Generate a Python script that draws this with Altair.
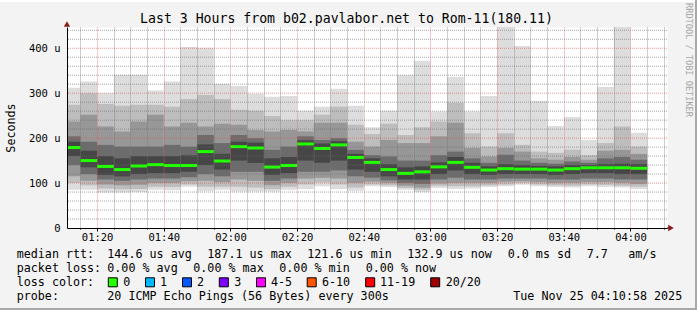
import altair as alt
import pandas as pd

# ---------------- data ----------------
times_end = ["01:15", "01:20", "01:25", "01:30", "01:35", "01:40", "01:45", "01:50", "01:55",
             "02:00", "02:05", "02:10", "02:15", "02:20", "02:25", "02:30", "02:35", "02:40",
             "02:45", "02:50", "02:55", "03:00", "03:05", "03:10", "03:15", "03:20", "03:25",
             "03:30", "03:35", "03:40", "03:45", "03:50", "03:55", "04:00", "04:05"]

vmax = [312, 326, 300, 341, 341, 306, 326, 403, 401, 321, 316, 299, 292, 294, 261, 270, 310, 272,
        224, 261, 340, 372, 259, 336, 259, 294, 520, 405, 283, 227, 247, 196, 314, 520, 212]
hi2 = [274, 300, 276, 272, 274, 274, 270, 287, 296, 287, 263, 261, 249, 240, 240, 252, 270, 230,
       209, 232, 207, 224, 237, 279, 211, 181, 211, 185, 170, 167, 174, 162, 189, 226, 181]
hi3 = [237, 252, 226, 215, 237, 252, 226, 234, 226, 232, 230, 218, 215, 218, 215, 234, 234, 192,
       181, 196, 189, 189, 204, 234, 178, 159, 178, 170, 155, 152, 158, 152, 172, 174, 165]
hi4 = [204, 192, 185, 181, 181, 181, 185, 181, 207, 189, 207, 200, 174, 181, 204, 196, 200, 174,
       162, 159, 150, 150, 162, 170, 155, 145, 163, 150, 145, 143, 148, 145, 155, 158, 152]
hi5 = [192, 172, 160, 155, 160, 160, 160, 162, 186, 165, 192, 190, 155, 158, 195, 188, 193, 165,
       155, 142, 135, 137, 146, 158, 145, 137, 142, 140, 138, 137, 140, 140, 142, 143, 142]
median = [179, 150, 137, 130, 138, 141, 139, 139, 170, 149, 181, 178, 135.5, 139, 187, 177, 185, 157,
          146, 130, 121.6, 125, 136, 146, 135, 129, 132, 131, 131, 129, 132, 134, 134, 134, 132.9]
lo5 = [160, 135, 118, 115, 120, 122, 122, 125, 140, 130, 150, 145, 118, 122, 150, 145, 150, 130,
       125, 115, 108, 108, 120, 128, 120, 118, 120, 120, 120, 118, 120, 122, 122, 120, 120]
lo4 = [140, 120, 108, 105, 108, 110, 110, 113, 120, 115, 125, 125, 105, 110, 125, 125, 128, 115,
       112, 106, 100, 98, 108, 112, 108, 108, 110, 110, 110, 108, 108, 110, 110, 108, 108]
lo3 = [115, 105, 97, 95, 96, 100, 100, 104, 105, 102, 108, 105, 95, 100, 110, 112, 110, 100,
       103, 100, 94, 90, 99, 100, 100, 100, 103, 104, 102, 100, 100, 102, 102, 100, 98]
lo2 = [100, 95, 88, 86, 87, 92, 91, 97, 92, 92, 92, 90, 87, 92, 97, 101, 97, 90,
       97, 95, 89, 85, 94, 93, 93, 95, 97, 100, 97, 95, 94, 97, 96, 94, 92]
vmin = [85, 85, 79, 79, 80, 85, 84, 92, 82, 85, 81, 81, 81, 85, 87, 93, 87, 83,
        93, 91, 85, 80, 89, 87, 88, 91, 93, 96, 93, 91, 90, 93, 91, 90, 87]

x_tick_labels = ["01:20", "01:40", "02:00", "02:20", "02:40", "03:00", "03:20", "03:40", "04:00"]
y_tick_values = [0, 100, 200, 300, 400]

title_text = "Last 3 Hours from b02.pavlabor.net to Rom-11(180.11)"
loss_labels = ["0", "1", "2", "3", "4-5", "6-10", "11-19", "20/20"]
loss_colors = ["#26ff00", "#00b8ff", "#0059ff", "#7e00ff", "#ff00ff", "#ff5500", "#ff0000", "#a10000"]

FONT = "DejaVu Sans Mono"


def to_min(t):
    h, m = t.split(":")
    return int(h) * 60 + int(m)


X0 = 70 + 58 / 60.0      # 01:10:58
X1 = X0 + 180            # 04:10:58
Y1 = 447.3
W, H = 600, 201

xs = alt.Scale(domain=[X0, X1], nice=False, zero=False)
ys = alt.Scale(domain=[0, Y1], nice=False, zero=False)

band_specs = [("L1", vmin, vmax, "#dddddd"),
              ("L2", lo2, hi2, "#bdbdbd"),
              ("L3", lo3, hi3, "#979797"),
              ("L4", lo4, hi4, "#6c6c6c"),
              ("L5", lo5, hi5, "#464646")]
rows = []
for name, lo, hi, _c in band_specs:
    for t, a, b in zip(times_end, lo, hi):
        e = to_min(t)
        rows.append(dict(x=e - 5, x2=e, lo=a, hi=b, layer=name))
bands = pd.DataFrame(rows)

med_df = pd.DataFrame({"x": [to_min(t) - 5 for t in times_end],
                       "x2": [to_min(t) for t in times_end],
                       "med": median})

major_x = [to_min(t) for t in x_tick_labels]
all_x = list(range(75, 251, 5))          # 5-minute grid (minor), majors every 20 min
major_y = [100.0, 200.0, 300.0, 400.0]
minor_y = [float(v) for v in range(20, 441, 20) if v not in major_y]

IS_MAJOR_X = "datum.value % 20 == 0"
xaxis = alt.Axis(values=all_x,
                 labelExpr="datum.value % 20 != 0 ? '' : "
                           "(floor(datum.value/60) < 10 ? '0' : '') + floor(datum.value/60) + ':' + "
                           "(datum.value % 60 < 10 ? '0' : '') + (datum.value % 60)",
                 title=None, domainColor="black", domainWidth=1,
                 grid=True, gridDash=[1, 1], gridWidth=1,
                 gridColor={"condition": {"test": IS_MAJOR_X, "value": "#e05050"}, "value": "#6a6a6a"},
                 gridOpacity={"condition": {"test": IS_MAJOR_X, "value": 0.6}, "value": 0.65},
                 zindex=1,
                 ticks=True, tickColor="black",
                 tickSize={"condition": {"test": IS_MAJOR_X, "value": 3}, "value": 1},
                 labelFont=FONT, labelFontSize=10.5, labelColor="black",
                 labelPadding=1, labelFlush=False)
yaxis = alt.Axis(values=y_tick_values,
                 labelExpr="datum.value == 0 ? '0' : datum.value + ' u'",
                 title=None, grid=False, domainColor="black", domainWidth=1,
                 ticks=False, labelFont=FONT, labelFontSize=10.5, labelColor="black",
                 labelPadding=7, labelFlush=False, zindex=1)

smoke = alt.Chart(bands).mark_rect(clip=True).encode(
    x=alt.X("x:Q", scale=xs, axis=xaxis),
    x2="x2:Q",
    y=alt.Y("lo:Q", scale=ys, axis=yaxis),
    y2="hi:Q",
    color=alt.Color("layer:N",
                    scale=alt.Scale(domain=[b[0] for b in band_specs],
                                    range=[b[3] for b in band_specs]),
                    legend=None),
)


def hgrid(vals, color, op):
    return alt.Chart(pd.DataFrame({"gy": vals})).mark_rule(
        color=color, opacity=op, strokeDash=[1, 1], strokeWidth=1).encode(
        y=alt.Y("gy:Q", scale=ys, axis=yaxis))


gy_minor = hgrid(minor_y, "#6a6a6a", 0.6)
gy_major = hgrid(major_y, "#e05050", 0.6)

med = alt.Chart(med_df).mark_rule(color="#22ff00", strokeWidth=3, clip=True).encode(
    x=alt.X("x:Q", scale=xs, axis=xaxis), x2="x2:Q",
    y=alt.Y("med:Q", scale=ys, axis=yaxis))

base = alt.Chart(pd.DataFrame({"a": [0]}))

decor = []
# axis extension + arrows
decor.append(base.mark_rule(color="black", strokeWidth=1).encode(
    x=alt.value(600), x2=alt.value(603), y=alt.value(201)))
decor.append(base.mark_point(shape="triangle-right", filled=True, size=40, color="#8b1a1a", opacity=1).encode(
    x=alt.value(604), y=alt.value(201)))
decor.append(base.mark_point(shape="triangle-up", filled=True, size=40, color="#8b1a1a", opacity=1).encode(
    x=alt.value(0), y=alt.value(-3)))

# frame
decor.append(base.mark_rule(color="#ffffff", strokeWidth=2).encode(
    x=alt.value(-67), x2=alt.value(630), y=alt.value(-26)))
decor.append(base.mark_rule(color="#a8a8a8", strokeWidth=2).encode(
    x=alt.value(-67), x2=alt.value(630), y=alt.value(282)))
decor.append(base.mark_rect(color="#a8a8a8").encode(
    x=alt.value(628), x2=alt.value(630), y=alt.value(-27), y2=alt.value(283)))


def txt(s, x, y, size=11.7, color="black", align="left", angle=0):
    kw = dict(font=FONT, fontSize=size, color=color, align=align, baseline="middle")
    if angle:
        kw["angle"] = angle
    return base.mark_text(**kw).encode(x=alt.value(x - 67), y=alt.value(y - 27), text=alt.value(s))


decor.append(txt(title_text, 346.5, 18.5, size=13.2, align="center"))
decor.append(txt("Seconds", 11, 128, size=11.7, align="center", angle=270))
decor.append(txt("RRDTOOL / TOBI OETIKER", 688.5, 60, size=8.6, color="#a6a6a6", align="center", angle=90))

L1, L2, L3, L4 = 254.3, 268.3, 282.3, 296.2
line1 = [("median rtt:", 16.7), ("144.6 us avg", 107.3), ("187.1 us max", 207.3),
         ("121.6 us min", 307.3), ("132.9 us now", 407.3), ("0.0 ms sd", 507.7),
         ("7.7", 586.7), ("am/s", 628.3)]
line2 = [("packet loss:", 16.7), ("0.00 % avg", 107.3), ("0.00 % max", 193.3),
         ("0.00 % min", 279.3), ("0.00 % now", 365.7)]
line4 = [("probe:", 16.7), ("20 ICMP Echo Pings (56 Bytes) every 300s", 107.3),
         ("Tue Nov 25 04:10:58 2025", 513.3)]
for s, x in line1:
    decor.append(txt(s, x, L1))
for s, x in line2:
    decor.append(txt(s, x, L2))
for s, x in line4:
    decor.append(txt(s, x, L4))
decor.append(txt("loss color:", 16.7, L3))

box_x = [108.3, 145.5, 182.5, 219.3, 256.5, 307.2, 365.7, 430.7]
lab_x = [123.3, 160.0, 197.0, 234.3, 271.0, 322.0, 380.0, 445.7]
for lab, col, bx, lx in zip(loss_labels, loss_colors, box_x, lab_x):
    decor.append(base.mark_rect(color=col, stroke="black", strokeWidth=1).encode(
        x=alt.value(bx - 67), x2=alt.value(bx - 67 + 9),
        y=alt.value(L3 - 27 - 4.5), y2=alt.value(L3 - 27 + 4.5)))
    decor.append(txt(lab, lx, L3))

chart = alt.layer(smoke, gy_minor, gy_major, med, *decor).properties(
    width=W, height=H,
    autosize=alt.AutoSizeParams(type="none"),
    padding={"left": 67, "top": 27, "right": 30, "bottom": 82},
    background="#f3f3f3",
).configure_view(fill="white", stroke="transparent")

chart.save("out.html", embed_options={"renderer": "svg", "actions": False})
